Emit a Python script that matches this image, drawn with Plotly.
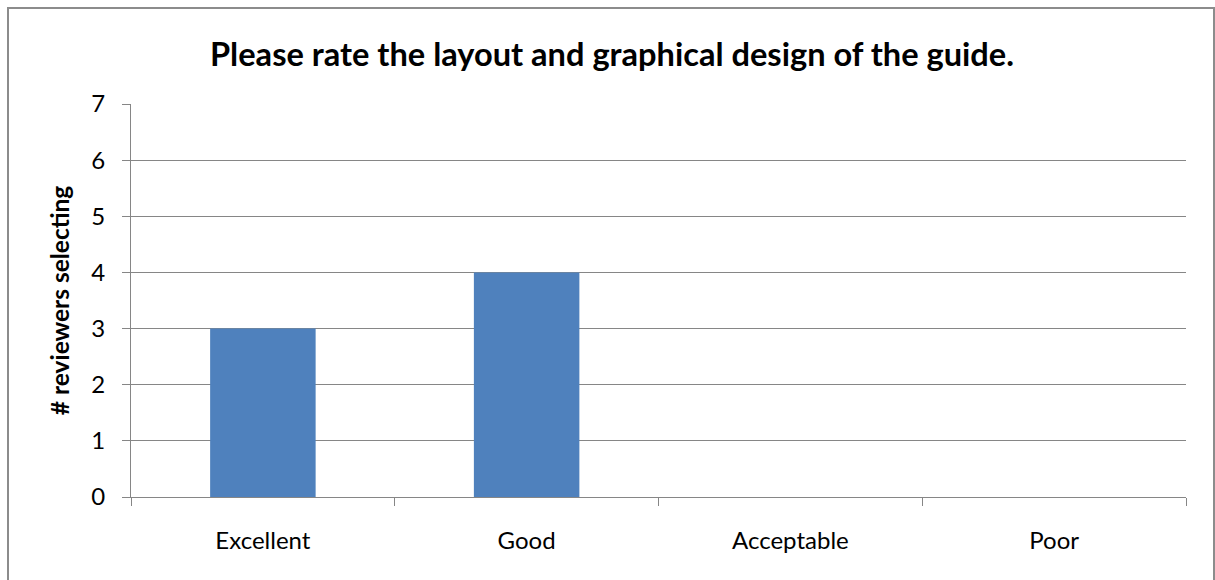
import plotly.graph_objects as go

# Survey responses
categories = ["Excellent", "Good", "Acceptable", "Poor"]
reviewers = [3, 4, 0, 0]
y_ticks = [0, 1, 2, 3, 4, 5, 6, 7]

FONT = "Lato, Calibri, sans-serif"
GRID = "#868686"

fig = go.Figure(
    go.Bar(
        x=categories,
        y=reviewers,
        marker=dict(color="#4F81BD", line=dict(width=0)),
        hoverinfo="x+y",
    )
)

W, H = 1215, 580
L, R, T, B = 131, 29, 104, 83
pw, ph = W - L - R, H - T - B

def px_x(x):
    return (x - L) / pw

def px_y(y):
    return (H - B - y) / ph

fig.update_layout(
    width=W,
    height=H,
    margin=dict(l=L, r=R, t=T, b=B),
    paper_bgcolor="white",
    plot_bgcolor="white",
    bargap=0.6,
    showlegend=False,
    font=dict(family=FONT, size=24, color="black"),
    title=dict(
        text="<b>Please rate the layout and graphical design of the guide.</b>",
        x=612 / W,
        xanchor="center",
        y=1 - 55 / H,
        yanchor="middle",
        font=dict(family=FONT, size=32.6, color="black"),
    ),
    xaxis=dict(
        type="category",
        tickson="boundaries",
        ticks="outside",
        ticklen=8,
        tickcolor=GRID,
        tickwidth=1,
        showline=True,
        linecolor=GRID,
        linewidth=1,
        showgrid=False,
        tickfont=dict(size=24),
        ticklabelstandoff=22,
    ),
    yaxis=dict(
        range=[0, 7],
        tickvals=y_ticks,
        ticks="outside",
        ticklen=8,
        tickcolor=GRID,
        showline=True,
        linecolor=GRID,
        linewidth=1,
        showgrid=True,
        gridcolor=GRID,
        gridwidth=1,
        zeroline=False,
        tickfont=dict(size=24),
        ticklabelstandoff=12,
        title=dict(
            text="<b># reviewers selecting</b>",
            font=dict(family=FONT, size=24.5),
            standoff=14,
        ),
    ),
    shapes=[
        # chart frame
        dict(
            type="rect",
            xref="paper",
            yref="paper",
            x0=px_x(8),
            x1=px_x(1214),
            y0=px_y(590),
            y1=px_y(8),
            line=dict(color="#8C8C8C", width=2),
            fillcolor="rgba(0,0,0,0)",
            layer="below",
        )
    ],
)

fig.write_html("out.html")
